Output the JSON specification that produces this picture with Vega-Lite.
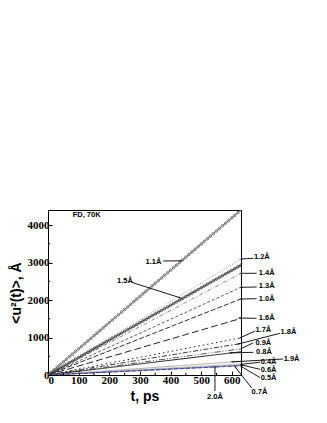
{
"$schema": "https://vega.github.io/schema/vega-lite/v6.json",
"autosize": {"type": "none"},
"padding": {"left": 48, "top": 210, "right": 86, "bottom": 48},
"width": 193,
"height": 165,
"background": "white",
"config": {
"numberFormat": "d",
"view": {"stroke": "#000", "strokeWidth": 1},
"axis": {"grid": false, "domain": false, "labelOverlap": false, "labelFont": "Liberation Serif", "labelFontWeight": "bold", "labelFontSize": 11, "labelColor": "#000", "labelPadding": 3, "tickColor": "#000", "tickSize": -4, "titleFont": "Liberation Sans", "titleFontWeight": "bold", "titleFontSize": 14, "titlePadding": 4, "titleColor": "#000"},
"axisX": {"tickCount": 7},
"axisY": {"tickCount": 5}
},
"datasets": {
"curves": [
{"s":"1.2","t":0,"u":0},{"s":"1.2","t":630,"u":3090},
{"s":"1.4","t":0,"u":0},{"s":"1.4","t":630,"u":2710},
{"s":"1.3","t":0,"u":0},{"s":"1.3","t":630,"u":2340},
{"s":"1.0","t":0,"u":0},{"s":"1.0","t":630,"u":2030},
{"s":"1.6","t":0,"u":0},{"s":"1.6","t":630,"u":1510},
{"s":"1.7","t":0,"u":0},{"s":"1.7","t":630,"u":990},
{"s":"1.8","t":0,"u":0},{"s":"1.8","t":630,"u":840},
{"s":"0.9","t":0,"u":0},{"s":"0.9","t":630,"u":700},
{"s":"0.8","t":0,"u":0},{"s":"0.8","t":630,"u":620},
{"s":"1.9","t":0,"u":0},{"s":"1.9","t":630,"u":365},
{"s":"0.4","t":0,"u":0},{"s":"0.4","t":630,"u":295},
{"s":"0.6","t":0,"u":0},{"s":"0.6","t":630,"u":275},
{"s":"0.5","t":0,"u":0},{"s":"0.5","t":630,"u":262},
{"s":"0.7","t":0,"u":0},{"s":"0.7","t":630,"u":250},
{"s":"2.0","t":0,"u":0},{"s":"2.0","t":630,"u":245},
{"s":"1.5","t":0,"u":0},{"s":"1.5","t":10,"u":47},{"s":"1.5","t":20,"u":93},{"s":"1.5","t":30,"u":140},{"s":"1.5","t":40,"u":186},{"s":"1.5","t":50,"u":233},{"s":"1.5","t":60,"u":279},{"s":"1.5","t":70,"u":326},{"s":"1.5","t":80,"u":372},{"s":"1.5","t":90,"u":419},{"s":"1.5","t":100,"u":465},{"s":"1.5","t":110,"u":512},{"s":"1.5","t":120,"u":558},{"s":"1.5","t":130,"u":605},{"s":"1.5","t":140,"u":651},{"s":"1.5","t":150,"u":698},{"s":"1.5","t":160,"u":744},{"s":"1.5","t":170,"u":791},{"s":"1.5","t":180,"u":837},{"s":"1.5","t":190,"u":884},{"s":"1.5","t":200,"u":930},{"s":"1.5","t":210,"u":977},{"s":"1.5","t":220,"u":1023},{"s":"1.5","t":230,"u":1070},{"s":"1.5","t":240,"u":1116},{"s":"1.5","t":250,"u":1163},{"s":"1.5","t":260,"u":1209},{"s":"1.5","t":270,"u":1256},{"s":"1.5","t":280,"u":1302},{"s":"1.5","t":290,"u":1349},{"s":"1.5","t":300,"u":1395},{"s":"1.5","t":310,"u":1442},{"s":"1.5","t":320,"u":1488},{"s":"1.5","t":330,"u":1535},{"s":"1.5","t":340,"u":1581},{"s":"1.5","t":350,"u":1628},{"s":"1.5","t":360,"u":1674},{"s":"1.5","t":370,"u":1721},{"s":"1.5","t":380,"u":1767},{"s":"1.5","t":390,"u":1814},{"s":"1.5","t":400,"u":1860},{"s":"1.5","t":410,"u":1907},{"s":"1.5","t":420,"u":1953},{"s":"1.5","t":430,"u":2000},{"s":"1.5","t":440,"u":2046},{"s":"1.5","t":450,"u":2093},{"s":"1.5","t":460,"u":2139},{"s":"1.5","t":470,"u":2186},{"s":"1.5","t":480,"u":2232},{"s":"1.5","t":490,"u":2279},{"s":"1.5","t":500,"u":2326},{"s":"1.5","t":510,"u":2372},{"s":"1.5","t":520,"u":2419},{"s":"1.5","t":530,"u":2465},{"s":"1.5","t":540,"u":2512},{"s":"1.5","t":550,"u":2558},{"s":"1.5","t":560,"u":2605},{"s":"1.5","t":570,"u":2651},{"s":"1.5","t":580,"u":2698},{"s":"1.5","t":590,"u":2744},{"s":"1.5","t":600,"u":2791},{"s":"1.5","t":610,"u":2837},{"s":"1.5","t":620,"u":2884},{"s":"1.5","t":630,"u":2930},
{"s":"1.1","t":0,"u":0},{"s":"1.1","t":10,"u":70},{"s":"1.1","t":20,"u":140},{"s":"1.1","t":30,"u":210},{"s":"1.1","t":40,"u":279},{"s":"1.1","t":50,"u":349},{"s":"1.1","t":60,"u":419},{"s":"1.1","t":70,"u":489},{"s":"1.1","t":80,"u":559},{"s":"1.1","t":90,"u":629},{"s":"1.1","t":100,"u":698},{"s":"1.1","t":110,"u":768},{"s":"1.1","t":120,"u":838},{"s":"1.1","t":130,"u":908},{"s":"1.1","t":140,"u":978},{"s":"1.1","t":150,"u":1048},{"s":"1.1","t":160,"u":1117},{"s":"1.1","t":170,"u":1187},{"s":"1.1","t":180,"u":1257},{"s":"1.1","t":190,"u":1327},{"s":"1.1","t":200,"u":1397},{"s":"1.1","t":210,"u":1467},{"s":"1.1","t":220,"u":1536},{"s":"1.1","t":230,"u":1606},{"s":"1.1","t":240,"u":1676},{"s":"1.1","t":250,"u":1746},{"s":"1.1","t":260,"u":1816},{"s":"1.1","t":270,"u":1886},{"s":"1.1","t":280,"u":1955},{"s":"1.1","t":290,"u":2025},{"s":"1.1","t":300,"u":2095},{"s":"1.1","t":310,"u":2165},{"s":"1.1","t":320,"u":2235},{"s":"1.1","t":330,"u":2305},{"s":"1.1","t":340,"u":2375},{"s":"1.1","t":350,"u":2444},{"s":"1.1","t":360,"u":2514},{"s":"1.1","t":370,"u":2584},{"s":"1.1","t":380,"u":2654},{"s":"1.1","t":390,"u":2724},{"s":"1.1","t":400,"u":2794},{"s":"1.1","t":410,"u":2863},{"s":"1.1","t":420,"u":2933},{"s":"1.1","t":430,"u":3003},{"s":"1.1","t":440,"u":3073},{"s":"1.1","t":450,"u":3143},{"s":"1.1","t":460,"u":3213},{"s":"1.1","t":470,"u":3282},{"s":"1.1","t":480,"u":3352},{"s":"1.1","t":490,"u":3422},{"s":"1.1","t":500,"u":3492},{"s":"1.1","t":510,"u":3562},{"s":"1.1","t":520,"u":3632},{"s":"1.1","t":530,"u":3702},{"s":"1.1","t":540,"u":3771},{"s":"1.1","t":550,"u":3841},{"s":"1.1","t":560,"u":3911},{"s":"1.1","t":570,"u":3981},{"s":"1.1","t":580,"u":4051},{"s":"1.1","t":590,"u":4121},{"s":"1.1","t":600,"u":4190},{"s":"1.1","t":610,"u":4260},{"s":"1.1","t":620,"u":4330},{"s":"1.1","t":630,"u":4400}
],
"ann": [
{"lab":"1.1Å","lx":344,"ly":3021,"tx":376,"ty":3040,"hx":436,"hy":3045},
{"lab":"1.5Å","lx":251,"ly":2507,"tx":273,"ty":2472,"hx":431,"hy":2060},
{"lab":"1.2Å","lx":698,"ly":3138,"tx":670,"ty":3112,"hx":631,"hy":3093},
{"lab":"1.4Å","lx":714,"ly":2712,"tx":681,"ty":2712,"hx":629,"hy":2712},
{"lab":"1.3Å","lx":714,"ly":2373,"tx":681,"ty":2347,"hx":631,"hy":2338},
{"lab":"1.0Å","lx":714,"ly":2035,"tx":681,"ty":2035,"hx":631,"hy":2027},
{"lab":"1.6Å","lx":714,"ly":1511,"tx":681,"ty":1511,"hx":624,"hy":1520},
{"lab":"1.7Å","lx":703,"ly":1200,"tx":676,"ty":1173,"hx":627,"hy":990},
{"lab":"1.8Å","lx":785,"ly":1138,"tx":757,"ty":1111,"hx":621,"hy":827},
{"lab":"0.9Å","lx":703,"ly":850,"tx":670,"ty":858,"hx":630,"hy":700},
{"lab":"0.8Å","lx":705,"ly":615,"tx":670,"ty":605,"hx":596,"hy":590},
{"lab":"1.9Å","lx":795,"ly":418,"tx":768,"ty":427,"hx":601,"hy":350},
{"lab":"0.4Å","lx":720,"ly":360,"tx":692,"ty":340,"hx":632,"hy":285},
{"lab":"0.6Å","lx":720,"ly":133,"tx":692,"ty":152,"hx":632,"hy":267},
{"lab":"0.5Å","lx":720,"ly":-93,"tx":692,"ty":-70,"hx":632,"hy":221},
{"lab":"0.7Å","lx":690,"ly":-465,"tx":665,"ty":-347,"hx":611,"hy":215},
{"lab":"2.0Å","lx":545,"ly":-578,"tx":545,"ty":-427,"hx":545,"hy":212}
],
"xminor": [{"t":50},{"t":150},{"t":250},{"t":350},{"t":450},{"t":550}],
"yminor": [{"u":500},{"u":1500},{"u":2500},{"u":3500}],
"note": [{"txt":"FD, 70K","t":126,"u":4267}]
},
"layer": [
{
"data": {"name": "curves"},
"mark": {"type": "line", "clip": true},
"encoding": {
"x": {"field": "t", "type": "quantitative", "scale": {"domain": [0, 630], "nice": false, "zero": false},
 "axis": {"values": [0,100,200,300,400,500,600], "format": "d", "title": "t, ps"}},
"y": {"field": "u", "type": "quantitative", "scale": {"domain": [0, 4400], "nice": false},
 "axis": {"values": [0,1000,2000,3000,4000], "format": "d", "title": "<u²(t)>, Å"}},
"detail": {"field": "s"},
"color": {"field": "s", "type": "nominal", "legend": null,
 "scale": {"domain": ["1.1","1.2","1.5","1.4","1.3","1.0","1.6","1.7","1.8","0.9","0.8","1.9","0.4","0.6","0.5","0.7","2.0"],
  "range": ["#555555","#999999","#222222","#888888","#555555","#222222","#111111","#111111","#222222","#444444","#000000","#999999","#aaaaaa","#bbbbbb","#888888","#666666","#2233cc"]}},
"strokeDash": {"field": "s", "type": "nominal", "legend": null,
 "scale": {"domain": ["1.1","1.2","1.5","1.4","1.3","1.0","1.6","1.7","1.8","0.9","0.8","1.9","0.4","0.6","0.5","0.7","2.0"],
  "range": [[1,0],[1,1.5],[1,0],[4,2,1,2],[3,2],[5,2],[7,3],[1.5,3],[5,2,1.5,2],[6,2,1,2,1,2],[1,0],[1,0],[1,0],[2,1],[3,1],[1,0],[4,2]]}},
"strokeWidth": {"field": "s", "type": "nominal", "legend": null,
 "scale": {"domain": ["1.1","1.2","1.5","1.4","1.3","1.0","1.6","1.7","1.8","0.9","0.8","1.9","0.4","0.6","0.5","0.7","2.0"],
  "range": [1,0.8,1.2,0.8,0.8,0.9,0.9,1.7,0.9,0.9,1,1,1,1,1,1,1.6]}}
}
},
{
"data": {"name": "curves"},
"transform": [{"filter": "datum.s === '1.1' || datum.s === '1.5'"}],
"mark": {"type": "point", "shape": "circle", "filled": false, "size": 7, "strokeWidth": 1, "clip": true},
"encoding": {
"x": {"field": "t", "type": "quantitative"},
"y": {"field": "u", "type": "quantitative"},
"color": {"field": "s", "type": "nominal", "legend": null, "scale": {"domain": ["1.1","1.5"], "range": ["#333333","#1a1a1a"]}}
}
},
{
"data": {"name": "xminor"},
"mark": {"type": "rule", "color": "#000", "strokeWidth": 1},
"encoding": {
"x": {"field": "t", "type": "quantitative"},
"y": {"datum": 0, "type": "quantitative"},
"y2": {"datum": 60}
}
},
{
"data": {"name": "yminor"},
"mark": {"type": "rule", "color": "#000", "strokeWidth": 1},
"encoding": {
"y": {"field": "u", "type": "quantitative"},
"x": {"datum": 0, "type": "quantitative"},
"x2": {"datum": 7}
}
},
{
"data": {"name": "ann"},
"mark": {"type": "rule", "color": "#000", "strokeWidth": 0.9},
"encoding": {
"x": {"field": "tx", "type": "quantitative"},
"y": {"field": "ty", "type": "quantitative"},
"x2": {"field": "hx"},
"y2": {"field": "hy"}
}
},
{
"data": {"name": "ann"},
"transform": [{"calculate": "atan2((datum.hx - datum.tx) * 0.3063, (datum.hy - datum.ty) * 0.0375) * 180 / PI", "as": "ang"}],
"mark": {"type": "point", "shape": "wedge", "filled": true, "size": 18, "color": "#000", "opacity": 1},
"encoding": {
"x": {"field": "hx", "type": "quantitative"},
"y": {"field": "hy", "type": "quantitative"},
"angle": {"field": "ang", "type": "quantitative", "scale": null}
}
},
{
"data": {"name": "ann"},
"mark": {"type": "text", "font": "Liberation Sans", "fontWeight": "bold", "fontSize": 7.5, "color": "#000", "align": "center", "baseline": "middle"},
"encoding": {
"x": {"field": "lx", "type": "quantitative"},
"y": {"field": "ly", "type": "quantitative"},
"text": {"field": "lab"}
}
},
{
"data": {"name": "note"},
"mark": {"type": "text", "font": "Liberation Sans", "fontWeight": "bold", "fontSize": 7.5, "color": "#000", "align": "center", "baseline": "middle"},
"encoding": {
"x": {"field": "t", "type": "quantitative"},
"y": {"field": "u", "type": "quantitative"},
"text": {"field": "txt"}
}
}
]
}
